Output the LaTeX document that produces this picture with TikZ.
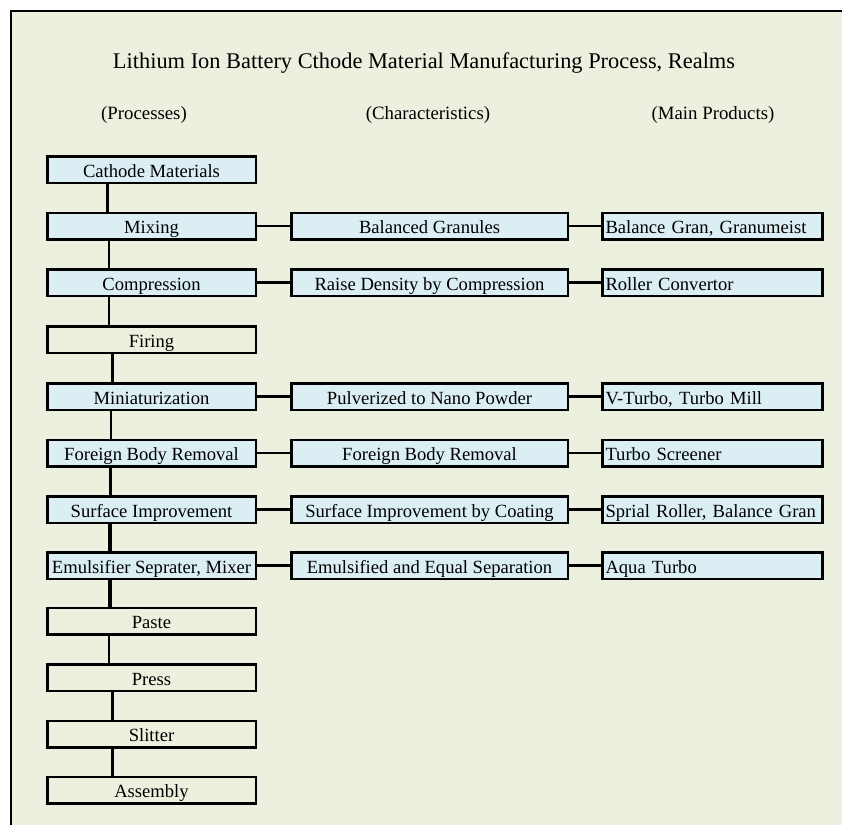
\documentclass[tikz,border=0pt]{standalone}
\usepackage{fontspec}
\setmainfont{Liberation Serif}
\usepackage{tikz}

\definecolor{bggreen}{RGB}{235,241,222}
\definecolor{boxblue}{RGB}{219,238,244}

\tikzset{
  procbox/.style={draw,line width=2.5pt,minimum width=208.5pt,minimum height=26.5pt,inner sep=0pt,text height=16pt,text depth=1pt,font=\fontsize{18.6}{21}\selectfont},
  charbox/.style={procbox,minimum width=276.5pt},
  prodbox/.style={draw,line width=2.5pt,text width=214pt,inner xsep=3.2pt,inner ysep=0pt,minimum height=26.5pt,text height=16pt,text depth=1pt,align=left,font=\fontsize{18.6}{21}\selectfont},
  link/.style={line width=2.3pt},
  heavylink/.style={line width=3.6pt}
}

\begin{document}
\begin{tikzpicture}[x=1pt,y=-1pt]
\useasboundingbox (0,0) rectangle (842,825);
% background and frame (left and top only)
\fill[bggreen] (11,11) rectangle (842,825);
\draw[line width=2pt] (11,825) -- (11,11) -- (842,11);
% title and column heads
\node[font=\fontsize{22.4}{26}\selectfont] (title) at (424,63) {Lithium Ion Battery Cthode Material Manufacturing Process, Realms};
\node[font=\fontsize{18.8}{22}\selectfont] (hProc) at (144,115) {(Processes)};
\node[font=\fontsize{18.8}{22}\selectfont] (hChar) at (428,115) {(Characteristics)};
\node[font=\fontsize{18.8}{22}\selectfont] (hProd) at (713,115) {(Main Products)};
% processes
\node[procbox,fill=boxblue] (cat) at (151.5,169.5) {Cathode Materials};
\node[procbox,fill=boxblue] (mix) at (151.5,226) {Mixing};
\node[procbox,fill=boxblue] (comp) at (151.5,282.5) {Compression};
\node[procbox] (fir) at (151.5,339.5) {Firing};
\node[procbox,fill=boxblue] (mini) at (151.5,396.5) {Miniaturization};
\node[procbox,fill=boxblue] (fbr) at (151.5,453) {Foreign Body Removal};
\node[procbox,fill=boxblue] (surf) at (151.5,509.5) {Surface Improvement};
\node[procbox,fill=boxblue] (emul) at (151.5,565.5) {Emulsifier Seprater, Mixer};
\node[procbox] (paste) at (151.5,621) {Paste};
\node[procbox] (press) at (151.5,677.5) {Press};
\node[procbox] (slit) at (151.5,734) {Slitter};
\node[procbox] (assy) at (151.5,790) {Assembly};
% characteristics
\node[charbox,fill=boxblue] (chMix) at (429.5,226) {Balanced Granules};
\node[charbox,fill=boxblue] (chComp) at (429.5,282.5) {Raise Density by Compression};
\node[charbox,fill=boxblue] (chMini) at (429.5,396.5) {Pulverized to Nano Powder};
\node[charbox,fill=boxblue] (chFbr) at (429.5,453) {Foreign Body Removal};
\node[charbox,fill=boxblue] (chSurf) at (429.5,509.5) {Surface Improvement by Coating};
\node[charbox,fill=boxblue] (chEmul) at (429.5,565.5) {Emulsified and Equal Separation};
% main products
\node[prodbox,fill=boxblue] (prMix) at (712.5,226) {Balance Gran, Granumeist};
\node[prodbox,fill=boxblue] (prComp) at (712.5,282.5) {Roller Convertor};
\node[prodbox,fill=boxblue] (prMini) at (712.5,396.5) {V-Turbo, Turbo Mill};
\node[prodbox,fill=boxblue] (prFbr) at (712.5,453) {Turbo Screener};
\node[prodbox,fill=boxblue] (prSurf) at (712.5,509.5) {Sprial Roller, Balance Gran};
\node[prodbox,fill=boxblue] (prEmul) at (712.5,565.5) {Aqua Turbo};
% process chain
\draw[link] ([xshift=-44pt]cat.south) -- ([xshift=-44pt]mix.north);
\draw[link] ([xshift=-42.5pt]mix.south) -- ([xshift=-42.5pt]comp.north);
\draw[link] ([xshift=-42.5pt]comp.south) -- ([xshift=-42.5pt]fir.north);
\draw[link] ([xshift=-39pt]fir.south) -- ([xshift=-39pt]mini.north);
\draw[link] ([xshift=-40.5pt]mini.south) -- ([xshift=-40.5pt]fbr.north);
\draw[link] ([xshift=-41pt]fbr.south) -- ([xshift=-41pt]surf.north);
\draw[heavylink] ([xshift=-41.5pt]surf.south) -- ([xshift=-41.5pt]emul.north);
\draw[heavylink] ([xshift=-41.5pt]emul.south) -- ([xshift=-41.5pt]paste.north);
\draw[link] ([xshift=-42.5pt]paste.south) -- ([xshift=-42.5pt]press.north);
\draw[link] ([xshift=-39pt]press.south) -- ([xshift=-39pt]slit.north);
\draw[link] ([xshift=-39pt]slit.south) -- ([xshift=-39pt]assy.north);
% process to characteristics
\draw[link] (mix) -- (chMix);
\draw[link] (comp) -- (chComp);
\draw[link] (mini) -- (chMini);
\draw[link] (fbr) -- (chFbr);
\draw[link] (surf) -- (chSurf);
\draw[link] (emul) -- (chEmul);
% characteristics to products
\draw[link] (chMix) -- (prMix);
\draw[link] (chComp) -- (prComp);
\draw[link] (chMini) -- (prMini);
\draw[link] (chFbr) -- (prFbr);
\draw[heavylink] (chSurf) -- (prSurf);
\draw[heavylink] (chEmul) -- (prEmul);
\end{tikzpicture}
\end{document}
